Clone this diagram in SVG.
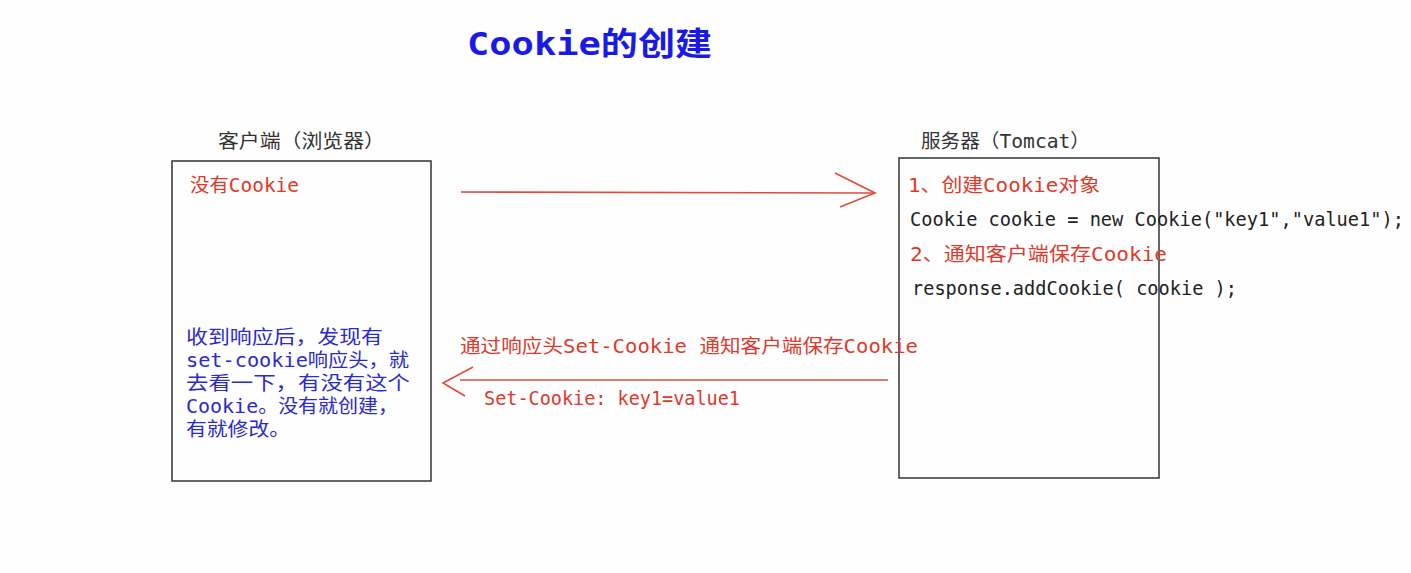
<svg xmlns="http://www.w3.org/2000/svg" width="1411" height="573" viewBox="0 0 1411 573">
<style>
text{font-family:"DejaVu Sans Mono","Noto Sans CJK SC",monospace;font-size:19px}
.lbl{fill:#333}
.red{fill:#e0392b}
.blue{fill:#2a2ad0}
.blk{fill:#222}
.title{fill:#1a1ae6;font-weight:bold;font-size:32px}
.box{fill:none;stroke:#333;stroke-width:1.5}
.ar{fill:none;stroke:#e04a3a;stroke-width:1.6}
</style>
<rect width="1411" height="573" fill="#fefefe"/>
<g id="title"><text class="title" x="467" y="55" textLength="245" lengthAdjust="spacingAndGlyphs">Cookie的创建</text></g>
<g id="client">
<text class="lbl" x="218" y="148" textLength="167" lengthAdjust="spacingAndGlyphs">客户端（浏览器）</text>
<rect class="box" x="172" y="161" width="259" height="320"/>
<text class="red" x="190" y="192" textLength="109" lengthAdjust="spacingAndGlyphs">没有Cookie</text>
<text class="blue" x="186" y="344" textLength="197" lengthAdjust="spacingAndGlyphs">收到响应后，发现有</text>
<text class="blue" x="186" y="367" textLength="223" lengthAdjust="spacingAndGlyphs">set-cookie响应头，就</text>
<text class="blue" x="186" y="390" textLength="224" lengthAdjust="spacingAndGlyphs">去看一下，有没有这个</text>
<text class="blue" x="186" y="413" textLength="212" lengthAdjust="spacingAndGlyphs">Cookie。没有就创建，</text>
<text class="blue" x="186" y="436" textLength="104" lengthAdjust="spacingAndGlyphs">有就修改。</text>
</g>
<g id="server">
<text class="lbl" x="921" y="148" textLength="169" lengthAdjust="spacingAndGlyphs">服务器（Tomcat）</text>
<rect class="box" x="899" y="158" width="260" height="320"/>
<text class="red" x="908" y="192" textLength="192" lengthAdjust="spacingAndGlyphs">1、创建Cookie对象</text>
<text class="blk" x="910" y="226" textLength="494" lengthAdjust="spacingAndGlyphs">Cookie cookie = new Cookie("key1","value1");</text>
<text class="red" x="910" y="261" textLength="257" lengthAdjust="spacingAndGlyphs">2、通知客户端保存Cookie</text>
<text class="blk" x="912" y="295" textLength="325" lengthAdjust="spacingAndGlyphs">response.addCookie( cookie );</text>
</g>
<g id="connectors">
<line class="ar" x1="461" y1="192" x2="875" y2="193"/>
<polyline class="ar" points="835,173 875,193 840,207"/>
<line class="ar" x1="888" y1="380" x2="460" y2="380"/>
<polyline class="ar" points="473,367 443,383 465,396"/>
<text class="red" x="460" y="353" textLength="458" lengthAdjust="spacingAndGlyphs">通过响应头Set-Cookie 通知客户端保存Cookie</text>
<text class="red" x="484" y="405" textLength="256" lengthAdjust="spacingAndGlyphs">Set-Cookie: key1=value1</text>
</g>
</svg>
